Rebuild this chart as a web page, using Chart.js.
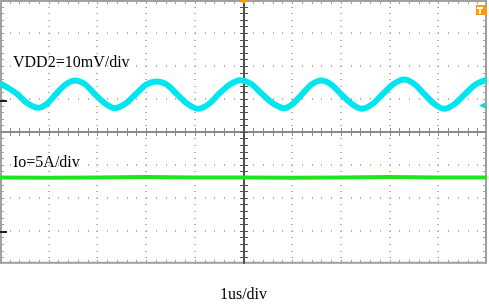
<!DOCTYPE html>
<html>
<head>
<meta charset="utf-8"/>
<title>VDD2 ripple / Io</title>
<script src="https://cdn.jsdelivr.net/npm/chart.js@4.4.1/dist/chart.umd.min.js"></script>
<style>
 body { margin: 0; background: #fff; }
 #wrap { width: 489px; height: 304px; }
</style>
</head>
<body>
<div id="wrap"><canvas id="scope" width="489" height="304"></canvas></div>
<script>
// time in us (1us/div), levels in screen divisions (8 div tall, 0 = centre line)
var ch1Time = [0.00, 0.17, 0.35, 0.57, 0.78, 0.97, 1.15, 1.35, 1.54, 1.75, 1.95, 2.16, 2.36,
               2.58, 2.79, 3.01, 3.22, 3.43, 3.63, 3.85, 4.07, 4.29, 4.50, 4.72, 4.93, 5.16,
               5.38, 5.61, 5.83, 6.02, 6.20, 6.40, 6.59, 6.80, 7.00, 7.22, 7.43, 7.65, 7.86,
               8.08, 8.30, 8.51, 8.71, 8.92, 9.12, 9.34, 9.55, 9.78, 10.00];
var ch1Div  = [1.47, 1.33, 1.15, 0.86, 0.73, 0.86, 1.15, 1.44, 1.56, 1.44, 1.14, 0.86, 0.72,
               0.86, 1.15, 1.44, 1.53, 1.43, 1.15, 0.85, 0.70, 0.85, 1.16, 1.44, 1.57, 1.45,
               1.15, 0.86, 0.72, 0.86, 1.14, 1.44, 1.56, 1.44, 1.15, 0.85, 0.70, 0.85, 1.15,
               1.45, 1.59, 1.45, 1.15, 0.85, 0.70, 0.85, 1.15, 1.45, 1.59];
var ch2Time = [0, 1, 2, 3, 4, 5, 6, 7, 8, 9, 10];
var ch2Div  = [-1.38, -1.39, -1.38, -1.37, -1.38, -1.38, -1.39, -1.38, -1.37, -1.38, -1.38];

var ch1Label = 'VDD2=10mV/div';
var ch2Label = 'Io=5A/div';
var timeLabel = '1us/div';

function pts(xs, ys) {
  var out = [];
  for (var i = 0; i < xs.length; i++) out.push({ x: xs[i], y: ys[i] });
  return out;
}

var serif = '"Liberation Serif", "Times New Roman", serif';

// graticule: dotted divisions, centre cross and border with minor ticks
var graticule = {
  id: 'graticule',
  beforeDatasetsDraw: function(chart) {
    var ctx = chart.ctx, a = chart.chartArea, x = chart.scales.x, y = chart.scales.y;
    var i, j, px, py;
    ctx.save();
    ctx.fillStyle = '#b0b0b0';
    for (i = 1; i < 10; i++) {
      if (i === 5) continue;
      px = Math.round(x.getPixelForValue(i));
      for (j = 1; j < 40; j++) {
        py = Math.round(y.getPixelForValue(-4 + j * 0.2));
        ctx.fillRect(px - 1, py, 2, 1);
      }
    }
    for (i = -3; i <= 3; i++) {
      if (i === 0) continue;
      py = Math.round(y.getPixelForValue(i));
      for (j = 1; j < 50; j++) {
        px = Math.round(x.getPixelForValue(j * 0.2));
        ctx.fillRect(px, py - 1, 1, 2);
      }
    }
    // border
    ctx.fillStyle = '#a0a0a0';
    ctx.fillRect(a.left, a.top, a.right - a.left, 2);
    ctx.fillRect(a.left, a.bottom - 2, a.right - a.left, 2);
    ctx.fillRect(a.left, a.top, 2, a.bottom - a.top);
    ctx.fillRect(a.right - 2, a.top, 2, a.bottom - a.top);
    for (j = 1; j < 50; j++) {
      px = Math.round(x.getPixelForValue(j * 0.2));
      ctx.fillRect(px, a.top, 1, 4);
      ctx.fillRect(px, a.bottom - 4, 1, 4);
    }
    for (j = 1; j < 40; j++) {
      py = Math.round(y.getPixelForValue(-4 + j * 0.2));
      ctx.fillRect(a.left, py, 4, 1);
      ctx.fillRect(a.right - 4, py, 4, 1);
    }
    // centre horizontal
    py = Math.round(y.getPixelForValue(0));
    ctx.fillStyle = '#8a8a8a';
    ctx.fillRect(a.left, py - 1, a.right - a.left, 2);
    for (j = 1; j < 50; j++) {
      px = Math.round(x.getPixelForValue(j * 0.2));
      ctx.fillRect(px, py - 4, 1, 8);
    }
    // centre vertical
    px = Math.round(x.getPixelForValue(5));
    ctx.fillStyle = '#505050';
    ctx.fillRect(px - 1, a.top, 2, a.bottom - a.top);
    for (j = 1; j < 40; j++) {
      py = Math.round(y.getPixelForValue(-4 + j * 0.2));
      ctx.fillRect(px - 4, py, 8, 1);
    }
    ctx.restore();
  },
  afterDatasetsDraw: function(chart) {
    var ctx = chart.ctx, a = chart.chartArea, x = chart.scales.x, y = chart.scales.y;
    ctx.save();
    ctx.fillStyle = '#000';
    ctx.font = '16px ' + serif;
    ctx.textBaseline = 'alphabetic';
    ctx.fillText(ch1Label, 13, 67);
    ctx.fillText(ch2Label, 13, 167);
    // channel ground markers (left)
    ctx.fillStyle = '#202020';
    ctx.fillRect(a.left, Math.round(y.getPixelForValue(0.98)), 7, 2);
    ctx.fillRect(a.left, Math.round(y.getPixelForValue(-3.02)), 7, 2);
    // trigger markers
    var cx = x.getPixelForValue(5);
    ctx.fillStyle = '#ff9a00';
    ctx.beginPath();
    ctx.moveTo(cx - 4, a.top);
    ctx.lineTo(cx + 4, a.top);
    ctx.lineTo(cx, a.top + 4);
    ctx.closePath();
    ctx.fill();
    ctx.beginPath();
    ctx.moveTo(476, 5); ctx.lineTo(484, 5);
    ctx.quadraticCurveTo(487, 5, 487, 10);
    ctx.quadraticCurveTo(487, 15, 484, 15);
    ctx.lineTo(476, 15);
    ctx.closePath();
    ctx.fill();
    ctx.fillStyle = '#fff';
    ctx.fillRect(477, 7, 6, 2);
    ctx.fillRect(479, 7, 2, 7);
    // ch1 trigger level arrow (right)
    var ty = y.getPixelForValue(0.8);
    ctx.fillStyle = '#00e0ea';
    ctx.beginPath();
    ctx.moveTo(479, ty);
    ctx.lineTo(485, ty - 3);
    ctx.lineTo(485, ty + 3);
    ctx.closePath();
    ctx.fill();
    ctx.restore();
  }
};

new Chart(document.getElementById('scope'), {
  type: 'line',
  data: {
    datasets: [
      {
        label: ch1Label,
        data: pts(ch1Time, ch1Div),
        borderColor: '#00e6f0',
        borderWidth: 6,
        pointRadius: 0,
        cubicInterpolationMode: 'monotone'
      },
      {
        label: ch2Label,
        data: pts(ch2Time, ch2Div),
        borderColor: '#1ee61e',
        borderWidth: 4,
        pointRadius: 0,
        tension: 0
      }
    ]
  },
  options: {
    responsive: false,
    animation: false,
    devicePixelRatio: 1,
    layout: { padding: { left: 0, right: 2, top: 0, bottom: 0 } },
    plugins: { legend: { display: false }, tooltip: { enabled: false } },
    scales: {
      x: {
        type: 'linear', min: 0, max: 10,
        grid: { display: false },
        border: { display: false },
        ticks: { display: false },
        title: { display: true, text: timeLabel, color: '#000',
                 font: { family: serif, size: 16 }, padding: { top: 13, bottom: 0 } }
      },
      y: {
        type: 'linear', min: -4, max: 4, display: false
      }
    }
  },
  plugins: [graticule]
});
</script>
</body>
</html>
